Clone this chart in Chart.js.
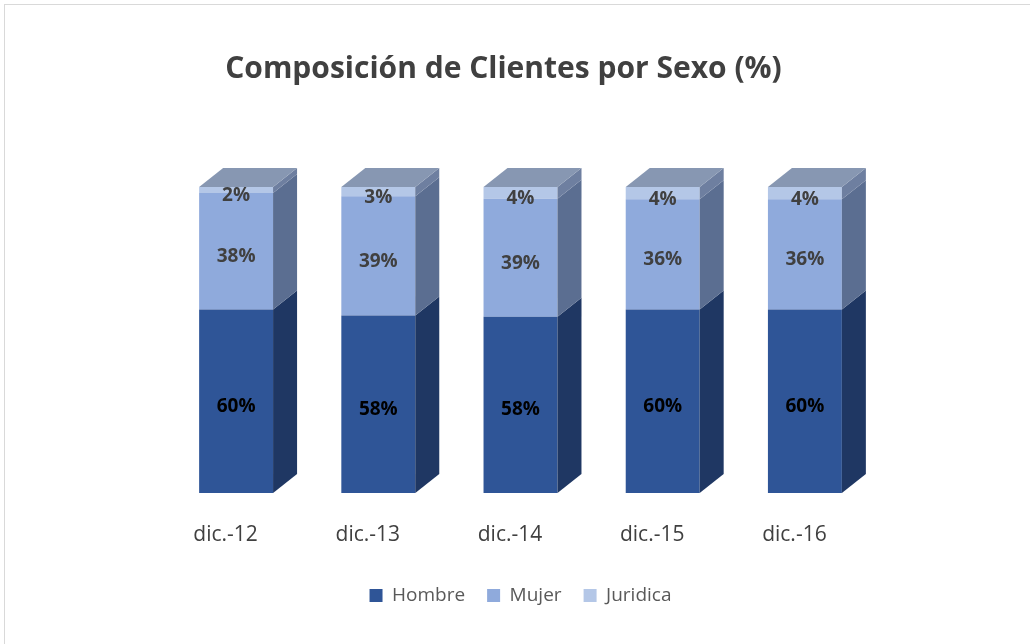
<!DOCTYPE html>
<html><head><meta charset="utf-8">
<script src="https://cdn.jsdelivr.net/npm/chart.js@4/dist/chart.umd.min.js"></script>
<style>
html,body{margin:0;padding:0;background:#fff;}
#wrap{position:relative;width:1030px;height:644px;overflow:hidden;background:#fff;}
#frame{position:absolute;left:4px;top:4px;width:1100px;height:700px;border:1px solid #d9d9d9;box-sizing:border-box;}
canvas{position:absolute;left:0;top:0;}
</style></head><body>
<div id="wrap"><div id="frame"></div><canvas id="c" width="1030" height="644"></canvas></div>
<script>
const categories = ['dic.-12', 'dic.-13', 'dic.-14', 'dic.-15', 'dic.-16'];
const seriesNames = ['Hombre', 'Mujer', 'Juridica'];
const hombre = [60, 58, 57.6, 60, 60];
const mujer = [38, 39, 38.6, 36, 36];
const juridica = [2, 3, 3.8, 4, 4];

const frontColors = ['#2F5597', '#8FAADC', '#B4C7E7'];
const sideColors = ['#1F3763', '#5B6E91', '#6E7FA0'];
const topColor = '#8797B2';
const labelColors = ['#000000', '#404040', '#404040'];
const labelShift = [5, 5.5, 6];
const DX = 24, DY = 19;

const bar3d = {
  id: 'bar3d',
  afterDatasetsDraw(chart) {
    const ctx = chart.ctx;
    const n = chart.data.datasets.length;
    ctx.save();
    for (let d = 0; d < n; d++) {
      const meta = chart.getDatasetMeta(d);
      meta.data.forEach((bar) => {
        const p = bar.getProps(['x', 'y', 'base', 'width'], true);
        const left = p.x - p.width / 2, right = p.x + p.width / 2;
        const top = Math.min(p.y, p.base), bot = Math.max(p.y, p.base);
        ctx.fillStyle = sideColors[d];
        ctx.beginPath();
        ctx.moveTo(right, top);
        ctx.lineTo(right + DX, top - DY);
        ctx.lineTo(right + DX, bot - DY);
        ctx.lineTo(right, bot);
        ctx.closePath();
        ctx.fill();
        if (d === n - 1) {
          ctx.fillStyle = topColor;
          ctx.beginPath();
          ctx.moveTo(left, top);
          ctx.lineTo(left + DX, top - DY);
          ctx.lineTo(right + DX, top - DY);
          ctx.lineTo(right, top);
          ctx.closePath();
          ctx.fill();
        }
      });
    }
    ctx.font = 'bold 19px "Open Sans"';
    ctx.textAlign = 'center';
    ctx.textBaseline = 'middle';
    for (let d = 0; d < n; d++) {
      const meta = chart.getDatasetMeta(d);
      const vals = chart.data.datasets[d].data;
      meta.data.forEach((bar, i) => {
        const p = bar.getProps(['x', 'y', 'base'], true);
        ctx.fillStyle = labelColors[d];
        ctx.fillText(Math.round(vals[i]) + '%', p.x, (p.y + p.base) / 2 + labelShift[d]);
      });
    }
    ctx.restore();
  }
};

const titleShift = {
  id: 'titleShift',
  afterLayout(chart) {
    const t = chart.titleBlock;
    if (t) { t.left -= 17; t.right -= 17; }
  }
};

new Chart(document.getElementById('c'), {
  type: 'bar',
  data: {
    labels: categories,
    datasets: [
      { label: seriesNames[0], data: hombre, backgroundColor: frontColors[0] },
      { label: seriesNames[1], data: mujer, backgroundColor: frontColors[1] },
      { label: seriesNames[2], data: juridica, backgroundColor: frontColors[2] }
    ]
  },
  options: {
    responsive: false,
    animation: false,
    layout: { padding: { top: 0, left: 165, right: 154, bottom: 29 } },
    datasets: { bar: { categoryPercentage: 1, barPercentage: 0.52, borderWidth: 0 } },
    plugins: {
      tooltip: { enabled: false },
      title: {
        display: true,
        text: 'Composición de Clientes por Sexo (%)',
        color: '#404040',
        font: { family: 'Open Sans', size: 30, weight: 'bold' },
        padding: { top: 51, bottom: 100 }
      },
      legend: {
        position: 'bottom',
        labels: {
          color: '#595959',
          font: { family: 'Open Sans', size: 19 },
          boxWidth: 13, boxHeight: 13, padding: 22
        }
      }
    },
    scales: {
      x: {
        stacked: true,
        grid: { display: false, drawTicks: false },
        border: { display: false },
        ticks: {
          color: '#404040',
          font: { family: 'Open Sans', size: 21 },
          padding: 29, labelOffset: -10.5, maxRotation: 0, autoSkip: false
        },
        afterFit(scale) { scale.height = 71; }
      },
      y: { stacked: true, display: false, min: 0, max: 100 }
    }
  },
  plugins: [bar3d, titleShift]
});
</script>
</body></html>
